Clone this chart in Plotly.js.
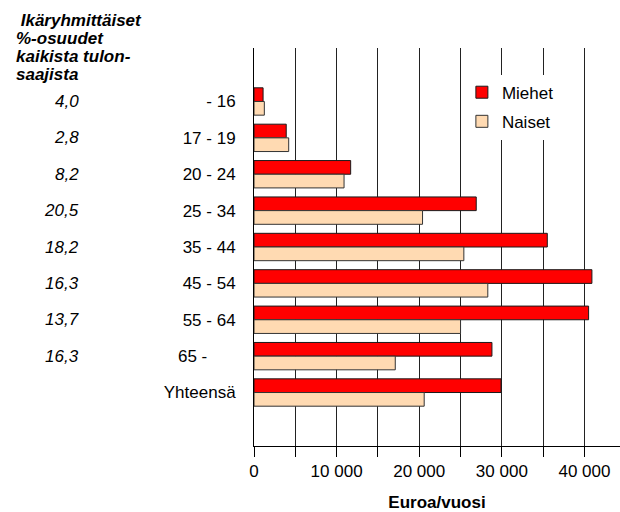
<!DOCTYPE html>
<html>
<head>
<meta charset="utf-8">
<script src="https://cdn.plot.ly/plotly-3.0.1.min.js"></script>
<style>html,body{margin:0;padding:0;background:#fff;}#chart{width:620px;height:512px;}</style>
</head>
<body>
<div id="chart"></div>
<script>
const categories = ['- 16', '17 - 19', '20 - 24', '25 - 34', '35 - 44', '45 - 54', '55 - 64', '65 -\u00a0\u00a0\u00a0\u00a0\u00a0\u00a0', 'Yhteensä'];
const miehet = [1100, 3900, 11700, 26900, 35500, 40900, 40500, 28800, 29900];
const naiset = [1250, 4200, 10900, 20400, 25400, 28300, 25000, 17100, 20600];
const shares = ['4,0', '2,8', '8,2', '20,5', '18,2', '16,3', '13,7', '16,3', ''];
const headerLines = ['\u00a0Ikäryhmittäiset', '%-osuudet', 'kaikista tulon-', 'saajista'];
const xTickVals = [0, 10000, 20000, 30000, 40000];
const xTickText = ['0', '10 000', '20 000', '30 000', '40 000'];

const FONT = 'Liberation Sans, Arial, sans-serif';

const traces = [
  {type: 'bar', orientation: 'h', name: 'Miehet', y: categories, x: miehet,
   marker: {color: '#ff0000', line: {color: '#1a1a1a', width: 1}}, legendgroup: 'm'},
  {type: 'bar', orientation: 'h', name: 'Naiset', y: categories, x: naiset,
   marker: {color: '#ffdab2', line: {color: '#333333', width: 1}}, legendgroup: 'n'}
];

const annotations = [];
categories.forEach((c, i) => {
  if (shares[i]) {
    annotations.push({xref: 'paper', yref: 'y', x: -0.472, y: c, text: '<i>' + shares[i] + '</i>',
      showarrow: false, xanchor: 'right', yanchor: 'middle', font: {family: FONT, size: 17, color: '#000'}});
  }
});
headerLines.forEach((t, i) => {
  annotations.push({xref: 'paper', yref: 'paper', x: -0.656, y: 1.099 - i * 0.0452, text: '<b><i>' + t + '</i></b>',
    showarrow: false, xanchor: 'left', yanchor: 'top', font: {family: FONT, size: 17, color: '#000'}});
});

const layout = {
  width: 620, height: 512,
  margin: {l: 254, r: 0, t: 48, b: 66},
  paper_bgcolor: '#fff', plot_bgcolor: '#fff',
  font: {family: FONT, size: 17, color: '#000'},
  barmode: 'group', bargap: 0.248, bargroupgap: 0,
  showlegend: true,
  legend: {x: 0.568, y: 0.933, xanchor: 'left', yanchor: 'top', bgcolor: '#fff',
    font: {family: FONT, size: 17, color: '#000'}, traceorder: 'grouped', tracegroupgap: 4},
  xaxis: {range: [0, 44300], tickvals: xTickVals, ticktext: xTickText,
    showgrid: true, gridcolor: '#222', gridwidth: 1, zeroline: false,
    showline: true, linecolor: '#000', linewidth: 1,
    ticks: 'outside', ticklen: 10, tickcolor: '#000', tickwidth: 1,
    minor: {dtick: 5000, showgrid: true, gridcolor: '#222', gridwidth: 1, ticks: 'outside', ticklen: 10, tickcolor: '#000'},
    tickfont: {family: FONT, size: 17, color: '#000'},
    title: {text: '<b>Euroa/vuosi</b>', font: {family: FONT, size: 17, color: '#000'}, standoff: 20},
    fixedrange: true},
  yaxis: {type: 'category', categoryorder: 'array', categoryarray: categories,
    range: [9.47, -1.47], showgrid: false, zeroline: false,
    showline: true, linecolor: '#000', linewidth: 1, ticks: '', ticklabelstandoff: 14,
    tickfont: {family: FONT, size: 17, color: '#000'}, fixedrange: true},
  annotations: annotations
};

Plotly.newPlot('chart', traces, layout, {displayModeBar: false, staticPlot: true});
</script>
</body>
</html>
